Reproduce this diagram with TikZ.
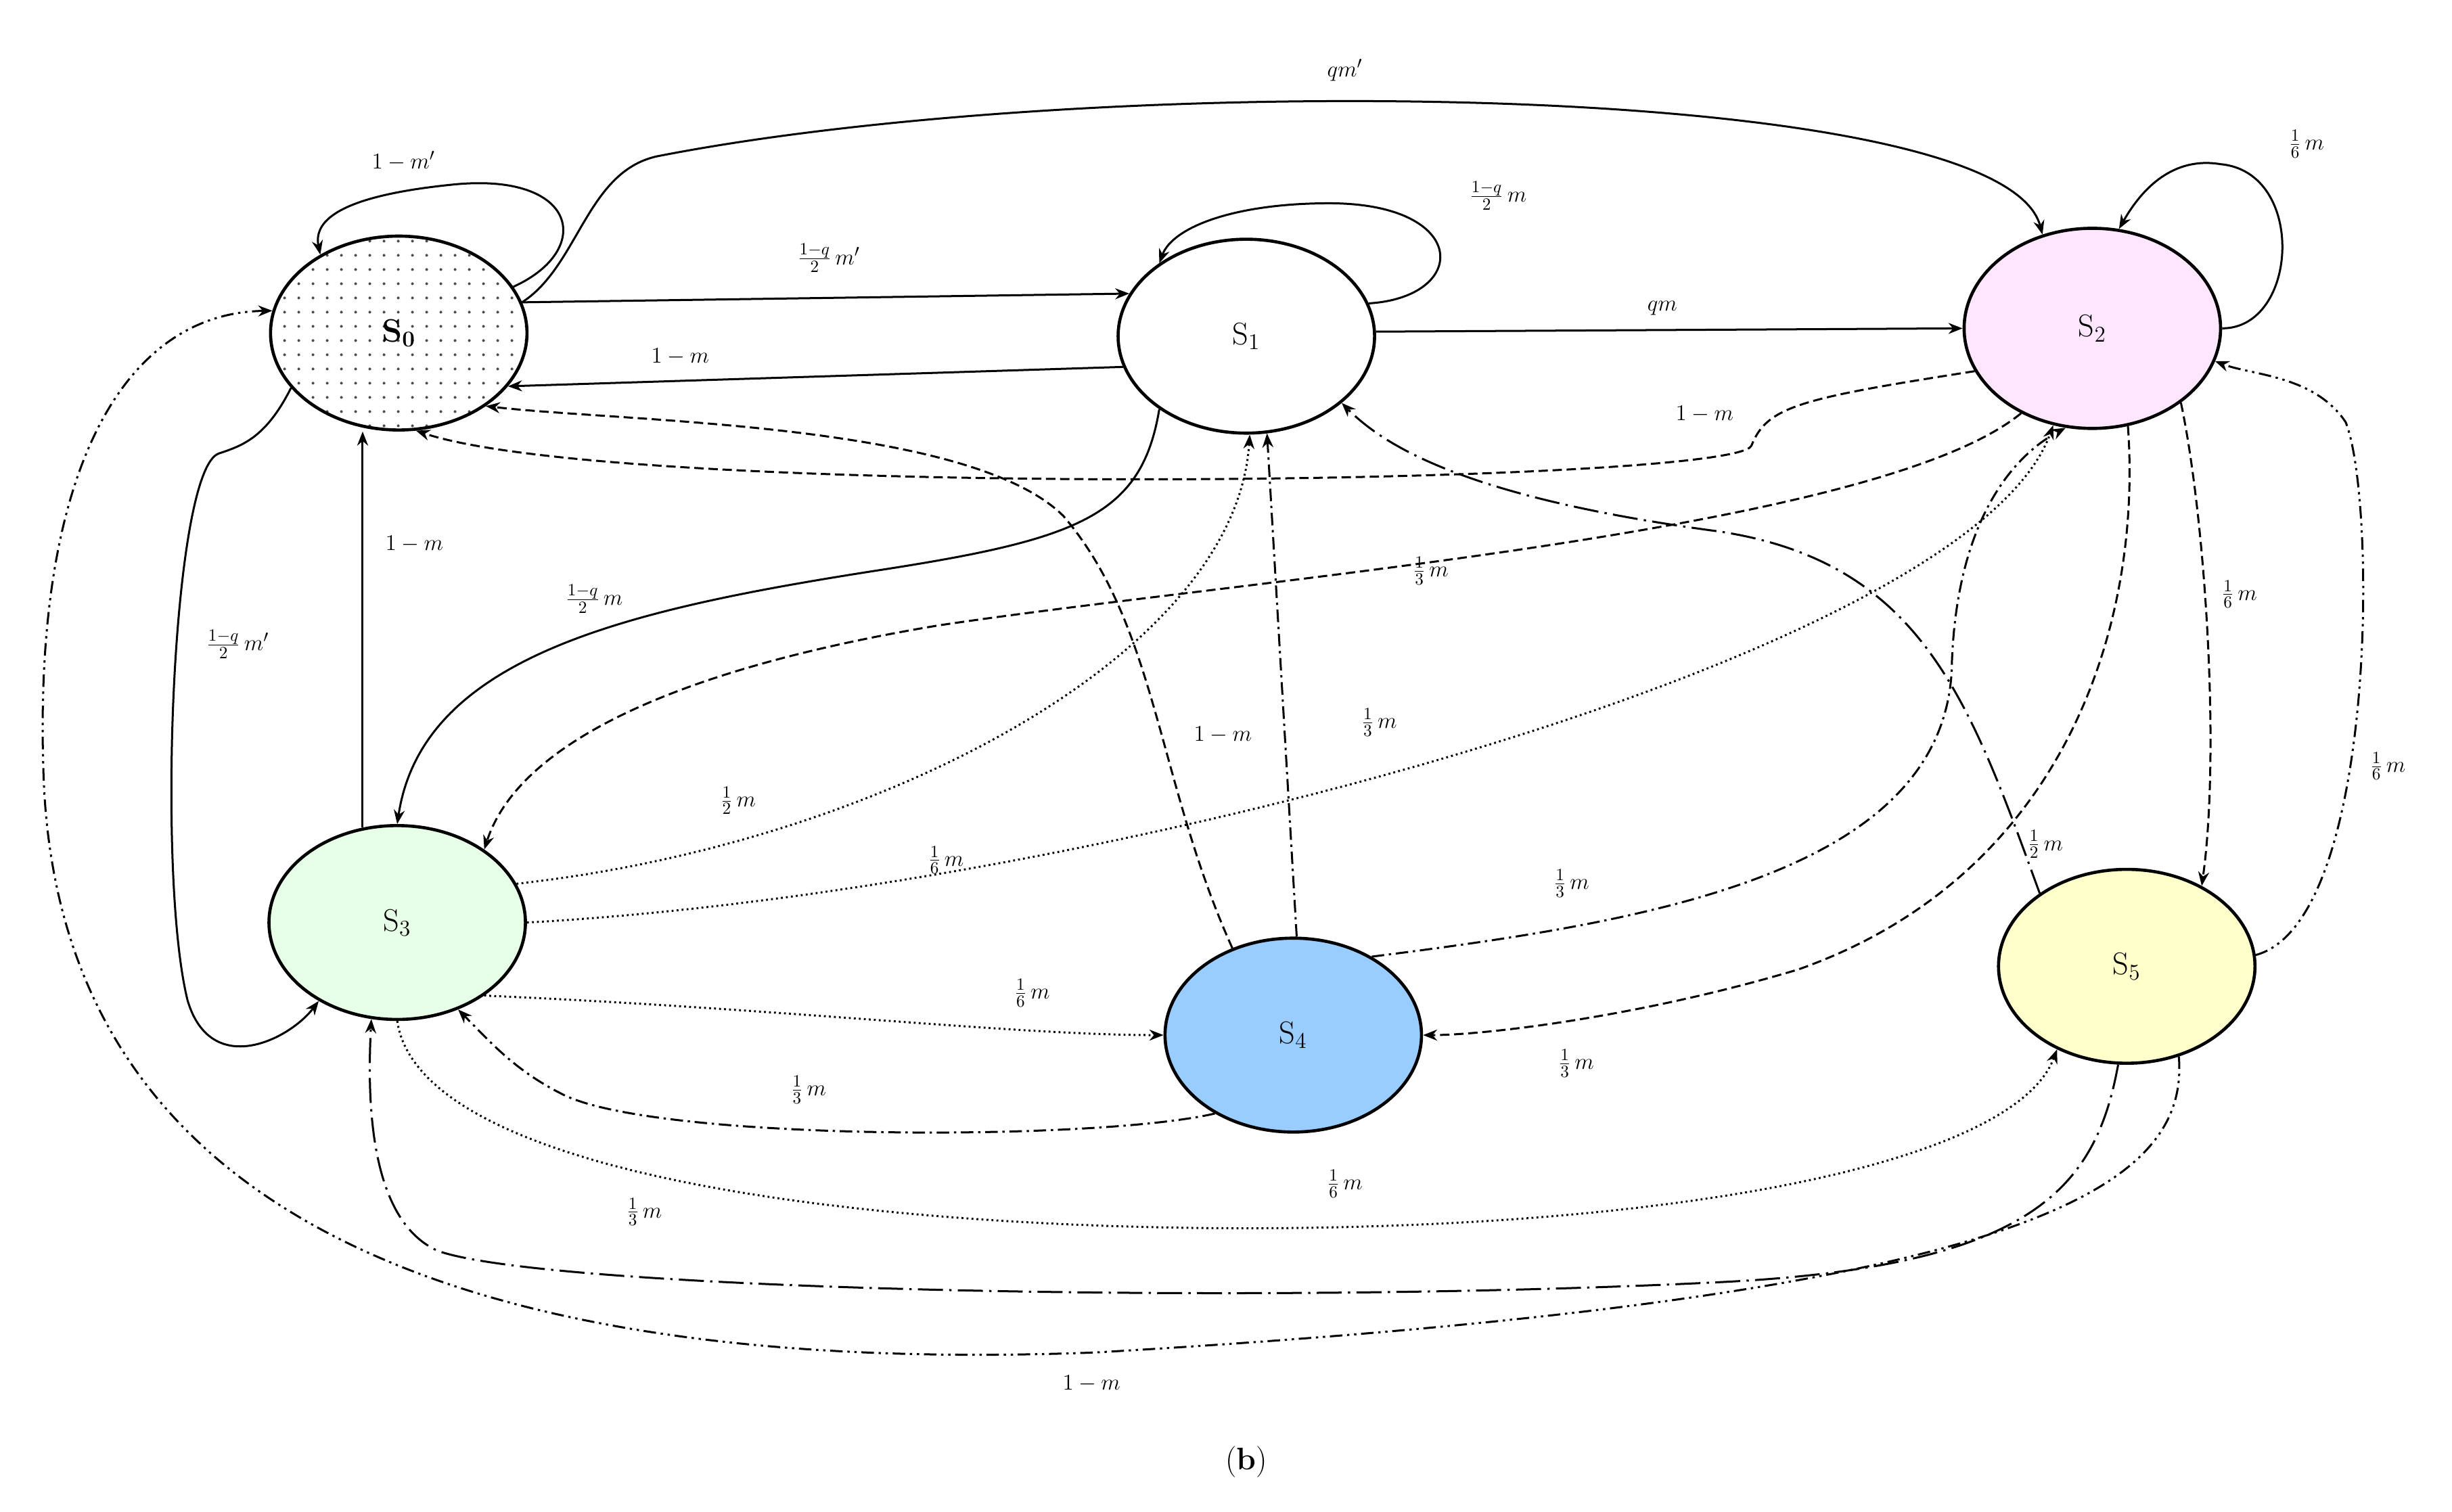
\documentclass[tikz,border=0pt]{standalone}
\usetikzlibrary{arrows.meta,shapes.geometric,patterns.meta}
\tikzdeclarepattern{name=mydots,type=uncolored,bounding box={(0pt,0pt) and (9pt,9pt)},tile size={(9pt,9pt)},code={\fill (2pt,2pt) circle (0.9pt);}}
\begin{document}
\begin{tikzpicture}[x=1pt,y=-1pt,
 st/.style={ellipse,draw,line width=2pt,minimum width=164pt,minimum height=124pt,inner sep=0pt,font=\fontsize{20}{24}\selectfont},
 e/.style={line width=1.3pt,-{Stealth[length=9pt,width=7pt]}},
 dd/.style={e,dash pattern=on 6pt off 3pt},
 dt/.style={e,dash pattern=on 1.2pt off 2pt},
 dsh/.style={e,dash pattern=on 8pt off 3pt on 1.5pt off 3pt},
 dsd/.style={e,dash pattern=on 8pt off 3pt on 1.5pt off 3pt on 1.5pt off 3pt},
 ldd/.style={e,dash pattern=on 16pt off 4pt on 1.5pt off 4pt},
 lab/.style={font=\fontsize{15}{18}\selectfont,inner sep=1pt}]
\useasboundingbox (0,0) rectangle (1568,967);
\fill[white] (0,0) rectangle (1568,967);
\node[st,preaction={fill=white},pattern=mydots,pattern color=black!70] (S0) at (255,213) {$\mathbf{S_0}$};
\node[st] (S1) at (797,215) {S$_1$};
\node[st,fill={rgb,255:red,255;green,230;blue,255},minimum height=128pt] (S2) at (1338,210) {S$_2$};
\node[st,fill={rgb,255:red,230;green,255;blue,230}] (S3) at (254,590) {S$_3$};
\node[st,fill={rgb,255:red,153;green,204;blue,255}] (S4) at (827,662) {S$_4$};
\node[st,fill={rgb,255:red,255;green,255;blue,204}] (S5) at (1360,618) {S$_5$};
\node[font=\fontsize{20}{24}\selectfont] (cap) at (797,935) {(\textbf{b})};
% solid
\draw[e] (S0.22) .. controls (380,160) and (370,110) .. (290,118) .. controls (220,125) and (200,140) .. (S0.135);
\node[lab] (l1) at (258,103) {$1-m'$};
\draw[e] (S0.14) .. controls (370,170) and (375,110) .. (420,100) .. controls (700,45) and (1280,50) .. (S2.118);
\node[lab] (l2) at (860,45) {$qm'$};
\draw[e] (S0.14) -- (S1.160);
\node[lab] (l3) at (530,165) {$\frac{1-q}{2}\,m'$};
\draw[e] (S1.194) -- (S0.-26);
\node[lab] (l4) at (435,228) {$1-m$};
\draw[e] (S1.15) .. controls (940,190) and (940,130) .. (850,130) .. controls (790,130) and (750,145) .. (S1.140);
\node[lab] (l5) at (958,125) {$\frac{1-q}{2}\,m$};
\draw[e] (S1.2) -- (S2.180);
\node[lab] (l6) at (1063,197) {$qm$};
\draw[e] (S2.0) .. controls (1470,210) and (1475,110) .. (1420,105) .. controls (1390,100) and (1370,120) .. (S2.75);
\node[lab] (l7) at (1475,92) {$\frac{1}{6}\,m$};
\draw[e] (S1.-140) .. controls (730,330) and (690,345) .. (560,365) .. controls (400,390) and (270,420) .. (S3.90);
\node[lab] (l9) at (380,383) {$\frac{1-q}{2}\,m$};
\draw[e] (S0.207) .. controls (170,280) and (155,285) .. (140,290) .. controls (110,300) and (100,560) .. (120,640) .. controls (135,690) and (185,665) .. (S3.225);
\node[lab] (l10) at (152,412) {$\frac{1-q}{2}\,m'$};
\draw[e] (S3.110) -- (S3.110 |- S0.south);
\node[lab] (l11) at (265,348) {$1-m$};
% dashed
\draw[dd] (S2.200) .. controls (1150,255) and (1130,260) .. (1120,285) .. controls (1110,310) and (400,320) .. (S0.-80);
\node[lab] (l8) at (1090,265) {$1-m$};
\draw[dd] (S2.-130) .. controls (1200,340) and (800,370) .. (600,400) .. controls (420,430) and (330,480) .. (S3.40);
\node[lab] (l12) at (915,365) {$\frac{1}{3}\,m$};
\draw[dd] (S4.125) .. controls (740,500) and (740,400) .. (680,330) .. controls (620,270) and (400,270) .. (S0.-40);
\node[lab] (l15) at (782,470) {$1-m$};
\draw[dd] (S2.-70) .. controls (1370,400) and (1320,560) .. (1150,620) .. controls (1050,650) and (950,662) .. (S4.0);
\node[lab] (l19) at (1008,680) {$\frac{1}{3}\,m$};
\draw[dd] (S2.-40) .. controls (1410,330) and (1420,480) .. (S5.47);
\node[lab] (l20) at (1432,380) {$\frac{1}{6}\,m$};
% dotted
\draw[dt] (S3.18) .. controls (560,540) and (790,420) .. (S1.-88);
\node[lab] (l13) at (472,512) {$\frac{1}{2}\,m$};
\draw[dt] (S3.0) .. controls (700,570) and (1260,420) .. (S2.-112);
\node[lab] (l14) at (605,550) {$\frac{1}{6}\,m$};
\draw[dt] (S3.-40) .. controls (500,645) and (650,662) .. (S4.180);
\node[lab] (l22) at (660,635) {$\frac{1}{6}\,m$};
\draw[dt] (S3.-90) .. controls (270,760) and (600,790) .. (850,785) .. controls (1100,780) and (1290,740) .. (S5.-130);
\node[lab] (l24) at (860,757) {$\frac{1}{6}\,m$};
% dash-dot
\draw[dsh] (S4.88) -- (S1.-78);
\node[lab] (l16) at (882,462) {$\frac{1}{3}\,m$};
\draw[dsh] (S4.45) .. controls (1050,590) and (1240,560) .. (1248,430) .. controls (1250,330) and (1290,290) .. (S2.-105);
\node[lab] (l18) at (1005,565) {$\frac{1}{3}\,m$};
\draw[dsh] (S4.-135) .. controls (700,730) and (420,730) .. (360,700) .. controls (330,685) and (315,668) .. (S3.-55);
\node[lab] (l23) at (517,697) {$\frac{1}{3}\,m$};
\draw[ldd] (S5.140) .. controls (1260,450) and (1230,360) .. (1100,340) .. controls (950,320) and (890,290) .. (S1.-35);
\node[lab] (l17) at (1308,540) {$\frac{1}{2}\,m$};
\draw[ldd] (S5.-95) .. controls (1340,760) and (1300,810) .. (1100,820) .. controls (800,835) and (350,825) .. (280,800) .. controls (235,780) and (235,700) .. (S3.-105);
\node[lab] (l25) at (412,775) {$\frac{1}{3}\,m$};
\draw[dsd] (S5.5) .. controls (1520,590) and (1520,320) .. (1500,270) .. controls (1480,240) and (1440,240) .. (S2.-15);
\node[lab] (l21) at (1527,490) {$\frac{1}{6}\,m$};
\draw[dsd] (S5.-60) .. controls (1400,760) and (1300,830) .. (700,865) .. controls (300,880) and (40,780) .. (28,500) .. controls (20,300) and (80,200) .. (S0.170);
\node[lab] (l26) at (698,885) {$1-m$};
\end{tikzpicture}
\end{document}
